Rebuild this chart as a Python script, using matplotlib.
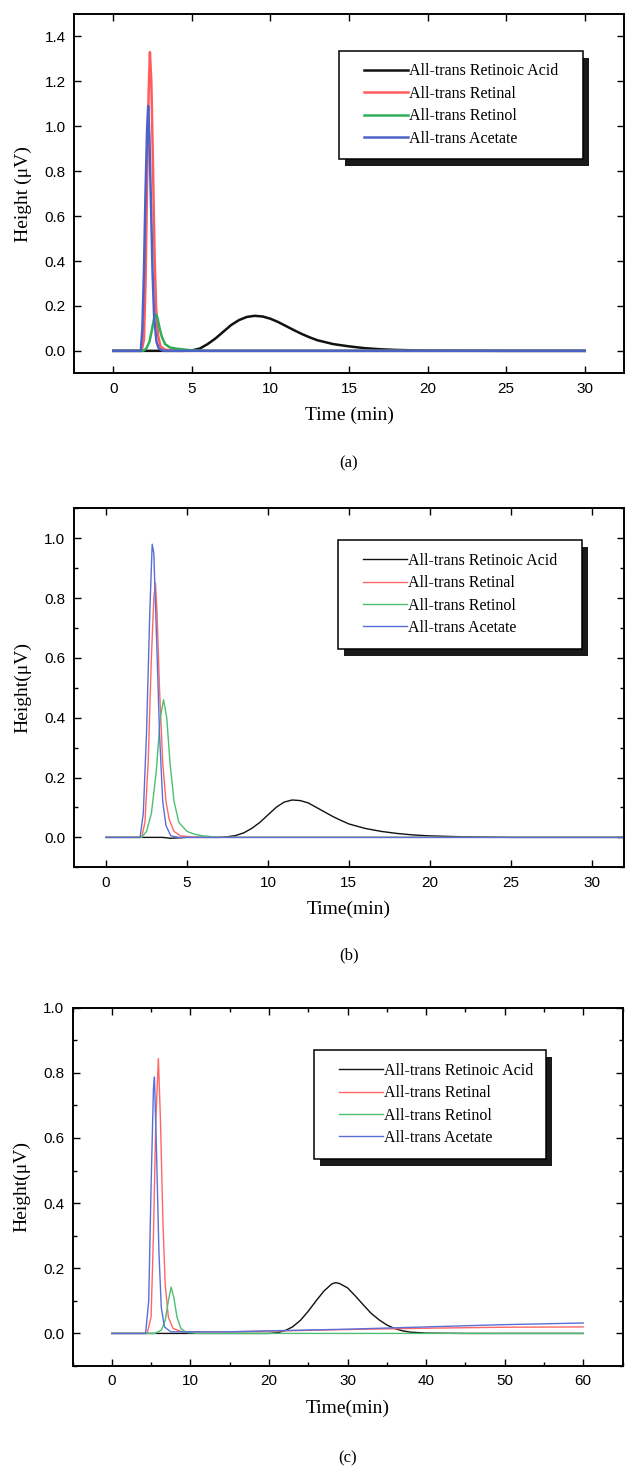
import matplotlib
matplotlib.use("Agg")
import matplotlib.pyplot as plt
from matplotlib.patches import Rectangle
from matplotlib.ticker import MultipleLocator

# series names and colours
names = ["All-trans Retinoic Acid", "All-trans Retinal",
         "All-trans Retinol", "All-trans Acetate"]
colors_a = ["#111111", "#ff5c5c", "#2fae55", "#4c62c8"]
colors_bc = ["#111111", "#ff6666", "#4cbf72", "#5a6fd6"]

# ---- panel (a) ----
a_t_acid = [0, 4.5, 5, 5.5, 6, 6.5, 7, 7.5, 8, 8.5, 9, 9.5, 10, 10.5, 11, 11.5,
            12, 12.5, 13, 14, 15, 16, 17, 18, 20, 25, 30]
a_h_acid = [0, 0, 0.002, 0.01, 0.03, 0.055, 0.085, 0.115, 0.137, 0.151, 0.156,
            0.153, 0.143, 0.128, 0.11, 0.092, 0.075, 0.06, 0.047, 0.03, 0.02,
            0.012, 0.007, 0.004, 0.001, 0, 0]
a_t_retinal = [0, 1.8, 1.95, 2.05, 2.15, 2.25, 2.33, 2.42, 2.52, 2.62, 2.72,
               2.85, 3.0, 3.3, 4, 30]
a_h_retinal = [0, 0, 0.05, 0.3, 0.75, 1.15, 1.33, 1.2, 0.85, 0.45, 0.2, 0.07,
               0.02, 0.005, 0, 0]
a_t_retinol = [0, 1.9, 2.1, 2.3, 2.45, 2.6, 2.7, 2.8, 2.95, 3.1, 3.3, 3.6, 4.0,
               4.5, 5, 6, 30]
a_h_retinol = [0, 0, 0.01, 0.04, 0.09, 0.145, 0.163, 0.15, 0.1, 0.06, 0.03,
               0.015, 0.01, 0.006, 0.002, 0, 0]
a_t_acetate = [0, 1.75, 1.85, 1.95, 2.05, 2.15, 2.22, 2.3, 2.4, 2.5, 2.6, 2.75,
               2.9, 3.2, 30]
a_h_acetate = [0, 0, 0.1, 0.35, 0.7, 0.98, 1.09, 0.95, 0.65, 0.35, 0.15, 0.04,
               0.01, 0, 0]

# ---- panel (b) ----
b_t_acid = [0, 3.5, 4, 5, 7, 7.5, 8, 8.5, 9, 9.5, 10, 10.5, 11, 11.5, 12, 12.5,
            13, 13.5, 14, 14.5, 15, 16, 17, 18, 19, 20, 22, 25, 32]
b_h_acid = [0, 0, -0.003, 0, 0, 0.002, 0.006, 0.015, 0.03, 0.05, 0.075, 0.1,
            0.118, 0.125, 0.123, 0.115, 0.1, 0.085, 0.07, 0.057, 0.045, 0.03,
            0.02, 0.013, 0.008, 0.005, 0.002, 0, 0]
b_t_retinal = [0, 2.2, 2.4, 2.6, 2.8, 2.95, 3.05, 3.15, 3.3, 3.5, 3.7, 3.9,
               4.2, 4.6, 5.5, 32]
b_h_retinal = [0, 0, 0.05, 0.25, 0.6, 0.8, 0.85, 0.75, 0.5, 0.25, 0.12, 0.06,
               0.02, 0.005, 0, 0]
b_t_retinol = [0, 2.2, 2.5, 2.8, 3.1, 3.35, 3.55, 3.75, 3.95, 4.2, 4.5, 5, 5.5,
               6, 7, 32]
b_h_retinol = [0, 0, 0.02, 0.08, 0.22, 0.4, 0.46, 0.4, 0.25, 0.12, 0.05, 0.02,
               0.01, 0.005, 0, 0]
b_t_acetate = [0, 2.1, 2.3, 2.5, 2.7, 2.85, 2.95, 3.1, 3.3, 3.5, 3.7, 4.0, 4.5,
               32]
b_h_acetate = [0, 0, 0.08, 0.35, 0.75, 0.98, 0.95, 0.7, 0.35, 0.12, 0.04,
               0.005, 0, 0]

# ---- panel (c) ----
c_t_acid = [0, 20, 21, 22, 23, 24, 25, 26, 27, 28, 28.5, 29, 30, 31, 32, 33,
            34, 35, 36, 37, 38, 40, 45, 60]
c_h_acid = [0, 0, 0.002, 0.008, 0.02, 0.04, 0.068, 0.1, 0.13, 0.152, 0.156,
            0.153, 0.14, 0.115, 0.088, 0.062, 0.042, 0.026, 0.015, 0.008,
            0.004, 0.001, 0, 0]
c_t_retinal = [0, 4.5, 5.0, 5.3, 5.6, 5.93, 6.2, 6.5, 6.8, 7.2, 7.8, 9, 15, 20,
               30, 40, 50, 60]
c_h_retinal = [0, 0, 0.05, 0.3, 0.65, 0.844, 0.65, 0.35, 0.15, 0.05, 0.015,
               0.005, 0.005, 0.007, 0.012, 0.016, 0.019, 0.02]
c_t_retinol = [0, 5.5, 6.3, 6.8, 7.2, 7.55, 7.9, 8.3, 8.8, 9.5, 11, 60]
c_h_retinol = [0, 0, 0.01, 0.04, 0.1, 0.142, 0.11, 0.05, 0.015, 0.003, 0, 0]
c_t_acetate = [0, 4.3, 4.7, 5.0, 5.3, 5.43, 5.7, 6.0, 6.3, 6.7, 7.5, 15, 20,
               30, 40, 50, 60]
c_h_acetate = [0, 0, 0.1, 0.45, 0.75, 0.787, 0.55, 0.25, 0.08, 0.02, 0.005,
               0.005, 0.008, 0.013, 0.02, 0.027, 0.032]

serif = "Liberation Serif"
sans = "Liberation Sans"

fig = plt.figure(figsize=(6.25, 14.72), dpi=100)
W, H = 625.0, 1472.0


def px_axes(l, t, r, b):
    return fig.add_axes([l / W, 1 - b / H, (r - l) / W, (b - t) / H])


panels = [
    dict(box=(74, 14, 624, 373.3), xlim=(-2.5, 32.5), ylim=(-0.1, 1.5),
         xmaj=5, ymaj=0.2, xmin=None, ymin=None, lw=1.8, colors=colors_a,
         xlabel="Time (min)", ylabel="Height (\u03bcV)", tag="(a)", tag_y=463,
         leg=(351, 50.7), pad_r=12,
         series=[(a_t_acid, a_h_acid), (a_t_retinal, a_h_retinal),
                 (a_t_retinol, a_h_retinol), (a_t_acetate, a_h_acetate)]),
    dict(box=(73.7, 508.3, 624, 867.3), xlim=(-2, 32), ylim=(-0.1, 1.1),
         xmaj=5, ymaj=0.2, xmin=None, ymin=0.1, lw=1.0, colors=colors_bc,
         xlabel="Time(min)", ylabel="Height(\u03bcV)", tag="(b)", tag_y=955,
         leg=(350, 540), pad_r=12,
         series=[(b_t_acid, b_h_acid), (b_t_retinal, b_h_retinal),
                 (b_t_retinol, b_h_retinol), (b_t_acetate, b_h_acetate)]),
    dict(box=(72.5, 1007.7, 622.5, 1366), xlim=(-5, 65), ylim=(-0.1, 1.0),
         xmaj=10, ymaj=0.2, xmin=5, ymin=0.1, lw=1.0, colors=colors_bc,
         xlabel="Time(min)", ylabel="Height(\u03bcV)", tag="(c)", tag_y=1458,
         leg=(326, 1050), pad_r=0,
         series=[(c_t_acid, c_h_acid), (c_t_retinal, c_h_retinal),
                 (c_t_retinol, c_h_retinol), (c_t_acetate, c_h_acetate)]),
]

legends = []
for p in panels:
    ax = px_axes(*p["box"])
    for (t, h), name, col in zip(p["series"], names, p["colors"]):
        ax.plot(t, h, color=col, lw=p["lw"], label=name)
    ax.set_xlim(*p["xlim"])
    ax.set_ylim(*p["ylim"])
    ax.xaxis.set_major_locator(MultipleLocator(p["xmaj"]))
    ax.yaxis.set_major_locator(MultipleLocator(p["ymaj"]))
    if p["xmin"]:
        ax.xaxis.set_minor_locator(MultipleLocator(p["xmin"]))
    if p["ymin"]:
        ax.yaxis.set_minor_locator(MultipleLocator(p["ymin"]))
    ax.tick_params(which="both", direction="in", top=True, right=True,
                   width=1.0, labelsize=11, pad=6)
    ax.tick_params(which="major", length=5)
    ax.tick_params(which="minor", length=3)
    ax.yaxis.set_major_formatter(plt.FormatStrFormatter("%.1f"))
    for lab in ax.get_xticklabels() + ax.get_yticklabels():
        lab.set_family(sans)
    for s in ax.spines.values():
        s.set_linewidth(1.4)
    ax.set_xlabel(p["xlabel"], family=serif, fontsize=14, labelpad=8)
    ax.set_ylabel(p["ylabel"], family=serif, fontsize=14, labelpad=9)
    l, t, r, b = p["box"]
    lx = (p["leg"][0] - l) / (r - l)
    ly = 1 - (p["leg"][1] - t) / (b - t)
    leg = ax.legend(loc="upper left", bbox_to_anchor=(lx, ly), frameon=False,
                    borderaxespad=0, borderpad=0.8, handlelength=2.75,
                    handletextpad=0.1, labelspacing=0.4,
                    prop={"family": serif, "size": 11.5})
    for ln in leg.get_lines():
        ln.set_linewidth(p["lw"])
    legends.append((ax, leg, p["pad_r"]))
    fig.text(((l + r) / 2) / W, 1 - p["tag_y"] / H, p["tag"], family=serif,
             fontsize=12, ha="center", va="center")

# legend frame with a heavy drop shadow
fig.canvas.draw()
inv = fig.transFigure.inverted()
for ax, leg, pad_r in legends:
    bb = leg.get_window_extent().transformed(inv)
    x0 = bb.x0 - 12 / W
    w = bb.width + (12 + pad_r) / W
    y0, h = bb.y0, bb.height
    ax.add_patch(Rectangle((x0 + 6 / W, y0 - 7 / H), w, h, transform=fig.transFigure,
                           facecolor="#1a1a1a", edgecolor="none", zorder=4.6,
                           clip_on=False))
    ax.add_patch(Rectangle((x0, y0), w, h, transform=fig.transFigure,
                           facecolor="white", edgecolor="black", lw=1.1,
                           zorder=4.8, clip_on=False))

fig.savefig("out.png", dpi=100)
